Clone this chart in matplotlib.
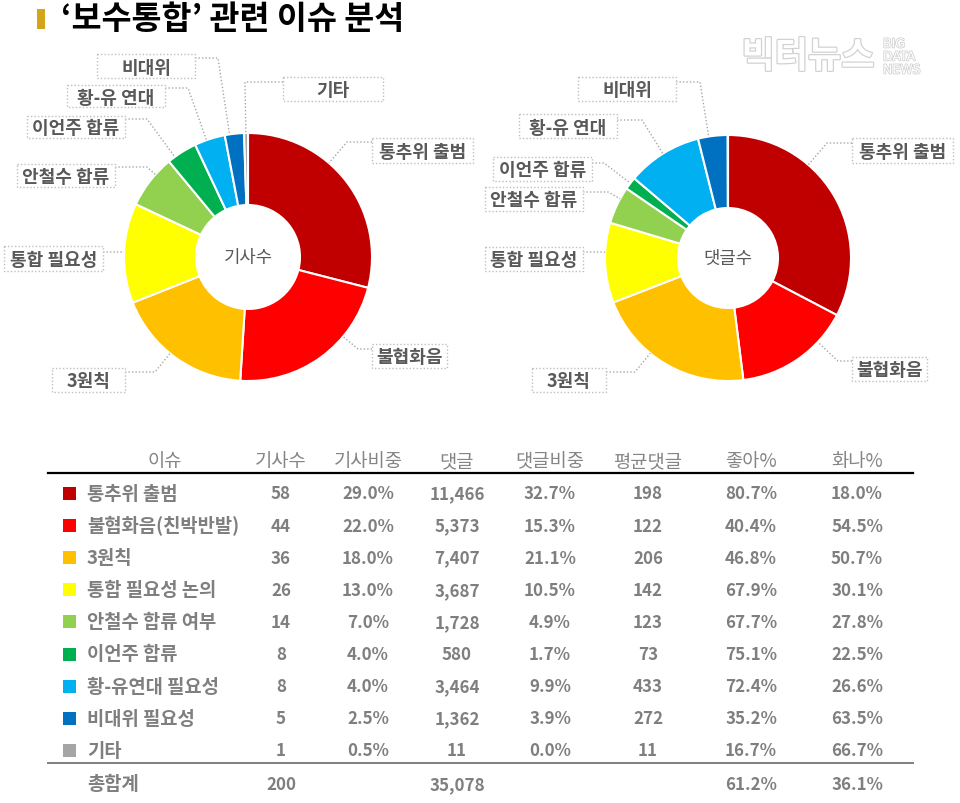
import numpy as np
import matplotlib
matplotlib.use('Agg')
import matplotlib.pyplot as plt
from matplotlib.patches import Rectangle
import matplotlib.patheffects as pe

plt.rcParams['font.family'] = ['Noto Sans CJK KR', 'DejaVu Sans']

# ---------------- data ----------------
issues = ['통추위 출범', '불협화음(친박반발)', '3원칙', '통합 필요성 논의', '안철수 합류 여부',
          '이언주 합류', '황-유연대 필요성', '비대위 필요성', '기타']
pie_labels = ['통추위 출범', '불협화음', '3원칙', '통합 필요성', '안철수 합류',
              '이언주 합류', '황-유 연대', '비대위', '기타']
articles = [58, 44, 36, 26, 14, 8, 8, 5, 1]
article_share = [29.0, 22.0, 18.0, 13.0, 7.0, 4.0, 4.0, 2.5, 0.5]
comments = [11466, 5373, 7407, 3687, 1728, 580, 3464, 1362, 11]
comment_share = [32.7, 15.3, 21.1, 10.5, 4.9, 1.7, 9.9, 3.9, 0.0]
avg_comments = [198, 122, 206, 142, 123, 73, 433, 272, 11]
like_pct = [80.7, 40.4, 46.8, 67.9, 67.7, 75.1, 72.4, 35.2, 16.7]
angry_pct = [18.0, 54.5, 50.7, 30.1, 27.8, 22.5, 26.6, 63.5, 66.7]
total_articles = 200
total_comments = 35078
total_like = 61.2
total_angry = 36.1
headers = ['이슈', '기사수', '기사비중', '댓글', '댓글비중', '평균댓글', '좋아%', '화나%']
title = '‘보수통합’ 관련 이슈 분석'

colors = ['#C00000', '#FF0000', '#FFC000', '#FFFF00', '#92D050',
          '#00B050', '#00B0F0', '#0070C0', '#A5A5A5']

# ---------------- figure ----------------
W, H = 960, 804
fig = plt.figure(figsize=(9.6, 8.04), dpi=100)
ax = fig.add_axes([0, 0, 1, 1])
ax.set_axis_off()

GRAY_TXT = '#595959'
LINE_C = '#a6a6a6'


def donut(values, center, R, width, callouts, center_text):
    wedges, _ = ax.pie(values, colors=colors, startangle=-90, counterclock=True,
                       center=center, radius=R,
                       wedgeprops=dict(width=width, edgecolor='white', linewidth=1.5))
    cx0, cy0 = center
    for idx, (bx, by, bw, bh, ex, ey, side) in callouts.items():
        w = wedges[idx]
        t1, t2 = w.theta1, w.theta2
        th = np.degrees(np.arctan2(ey - cy0, ex - cx0))
        t = t1 + ((th - t1) % 360)
        if t > t2:
            t = t2 if (t - t2) < (t1 + 360 - t) else t1
        ax_pt = (cx0 + R * np.cos(np.radians(t)), cy0 + R * np.sin(np.radians(t)))
        edge_x = bx - bw / 2 if side == 'left' else bx + bw / 2
        ax.plot([edge_x, ex, ax_pt[0]], [ey, ey, ax_pt[1]], color=LINE_C, lw=1,
                linestyle=(0, (1, 1.5)), zorder=2)
        ax.add_patch(Rectangle((bx - bw / 2, by - bh / 2), bw, bh, facecolor='white',
                               edgecolor='#bfbfbf', lw=1, linestyle=(0, (1, 1.5)), zorder=3))
        ax.text(bx, by + 1, pie_labels[idx], ha='center', va='center', fontsize=13,
                color=GRAY_TXT, fontweight='bold', zorder=4)
    ax.text(cx0, cy0, center_text, ha='center', va='center', fontsize=12.8,
            color=GRAY_TXT, zorder=4)


# callouts: index -> (box cx, box cy, box w, box h, elbow x, elbow y, side of box the line leaves)
callouts1 = {
    0: (422.5, 151.5, 101, 25, 347, 143, 'left'),
    1: (409.5, 357, 75, 24, 358, 350, 'left'),
    2: (88.5, 381, 73, 24, 155, 373, 'right'),
    3: (53.5, 259.5, 99, 25, 120, 253, 'right'),
    4: (66, 176.5, 98, 23, 147, 168, 'right'),
    5: (76, 128, 98, 22, 147, 120, 'right'),
    6: (116, 97, 98, 22, 188, 89, 'right'),
    7: (146, 67, 98, 24, 218, 59, 'right'),
    8: (333, 90, 100, 24, 245, 83, 'left'),
}
callouts2 = {
    0: (902.5, 151.5, 101, 25, 827, 144, 'left'),
    1: (889.5, 370, 75, 24, 838, 362, 'left'),
    2: (569, 381, 74, 24, 635, 373, 'right'),
    3: (534, 260, 98, 24, 600, 253, 'right'),
    4: (534, 200, 98, 24, 608, 193, 'right'),
    5: (542.5, 170, 99, 24, 604, 164, 'right'),
    6: (568, 127, 98, 24, 642, 121, 'right'),
    7: (627, 90, 98, 24, 700, 83, 'right'),
}

donut(articles, (248, 258), 124, 72, callouts1, '기사수')
donut(comments, (728, 259), 123, 73, callouts2, '댓글수')

ax.set_xlim(0, W)
ax.set_ylim(H, 0)
ax.set_aspect('auto')
ax.set_position([0, 0, 1, 1])

# ---------------- title ----------------
ax.add_patch(Rectangle((37, 10), 8, 20, facecolor='#D4A419', edgecolor='none'))
ax.text(61, 20, title, ha='left', va='center', fontsize=23.5, fontweight='bold', color='black')

# watermark
stroke = [pe.withStroke(linewidth=1.8, foreground='#d2d2d2')]
ax.text(808, 58, '빅터뉴스', ha='center', va='center', fontsize=26, fontweight='bold',
        color='white', path_effects=stroke, zorder=5)
for i, s in enumerate(['BIG', 'DATA', 'NEWS']):
    ax.text(883, 45 + 13 * i, s, ha='left', va='center', fontsize=9,
            color='white', path_effects=[pe.withStroke(linewidth=1.2, foreground='#d2d2d2')],
            zorder=5, family=['DejaVu Sans'])

# ---------------- table ----------------
col_x = [165, 281, 368, 457, 550, 648, 751, 857]
header_y = 462
row_y0, row_step = 494.5, 32.1
VAL_C = '#7f7f7f'

for x, h in zip(col_x, headers):
    ax.text(x, header_y, h, ha='center', va='center', fontsize=13.5, color='#858585')
ax.plot([48, 913], [474, 474], color='black', lw=1.6)

for i in range(len(issues)):
    y = row_y0 + row_step * i
    ax.add_patch(Rectangle((63, y - 6.5), 13, 13, facecolor=colors[i], edgecolor='none'))
    ax.text(87, y, issues[i], ha='left', va='center', fontsize=13.5, color=VAL_C, fontweight='bold')
    vals = [f'{articles[i]}', f'{article_share[i]:.1f}%', f'{comments[i]:,}',
            f'{comment_share[i]:.1f}%', f'{avg_comments[i]}', f'{like_pct[i]:.1f}%',
            f'{angry_pct[i]:.1f}%']
    for x, v in zip(col_x[1:], vals):
        ax.text(x, y, v, ha='center', va='center', fontsize=12.2, color=VAL_C, fontweight='bold')

ax.plot([48, 913], [764, 764], color='#7f7f7f', lw=1.4)
ty = 785
ax.text(87, ty, '총합계', ha='left', va='center', fontsize=13.5, color=VAL_C, fontweight='bold')
for x, v in [(col_x[1], f'{total_articles}'), (col_x[3], f'{total_comments:,}'),
             (col_x[6], f'{total_like:.1f}%'), (col_x[7], f'{total_angry:.1f}%')]:
    ax.text(x, ty, v, ha='center', va='center', fontsize=12.2, color=VAL_C, fontweight='bold')

fig.savefig('out.png', dpi=100, facecolor='white')
